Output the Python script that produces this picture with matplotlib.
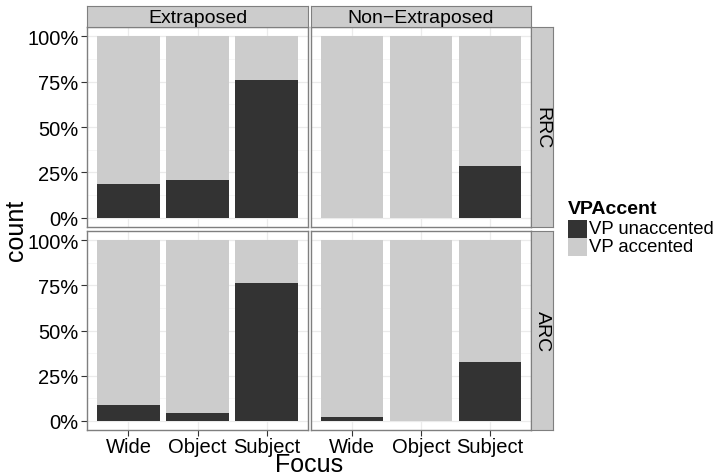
import matplotlib
matplotlib.use("Agg")
import matplotlib.pyplot as plt
from matplotlib.patches import Rectangle
from matplotlib.ticker import FixedLocator, PercentFormatter

plt.rcParams['font.family'] = ['Liberation Sans', 'DejaVu Sans']

focus = ["Wide", "Object", "Subject"]
columns = ["Extraposed", "Non\u2212Extraposed"]
rows = ["RRC", "ARC"]
series = ["VP unaccented", "VP accented"]
colors = ["#333333", "#CCCCCC"]
# share of VP unaccented per panel (row, column)
unaccented = {
    ("RRC", "Extraposed"): [0.187, 0.209, 0.76],
    ("RRC", "Non\u2212Extraposed"): [0.0, 0.0, 0.286],
    ("ARC", "Extraposed"): [0.09, 0.046, 0.764],
    ("ARC", "Non\u2212Extraposed"): [0.024, 0.0, 0.325],
}
yticks = [0, 0.25, 0.5, 0.75, 1.0]

W, H = 724, 477
fig = plt.figure(figsize=(W / 100, H / 100), dpi=100)

def px(l, t, w, h):
    return [l / W, 1 - (t + h) / H, w / W, h / H]

col_left = [87, 311]
col_w = [221, 220]
row_top = [28, 232]
row_h = [200, 199]
border = "#7F7F7F"

for ri, r in enumerate(rows):
    for ci, c in enumerate(columns):
        ax = fig.add_axes(px(col_left[ci], row_top[ri], col_w[ci], row_h[ri]))
        vals = unaccented[(r, c)]
        xs = list(range(1, len(focus) + 1))
        ax.bar(xs, vals, width=0.9, color=colors[0], zorder=2)
        ax.bar(xs, [1 - v for v in vals], bottom=vals, width=0.9, color=colors[1], zorder=2)
        ax.set_xlim(0.4, 3.6)
        ax.set_ylim(-0.05, 1.05)
        ax.yaxis.set_major_locator(FixedLocator(yticks))
        ax.yaxis.set_minor_locator(FixedLocator([0.125, 0.375, 0.625, 0.875]))
        ax.yaxis.set_major_formatter(PercentFormatter(1.0, decimals=0))
        ax.set_xticks(xs)
        ax.set_xticklabels(focus)
        ax.grid(True, which='major', color="#EBEBEB", lw=0.9, zorder=0)
        ax.grid(True, which='minor', axis='y', color="#F5F5F5", lw=0.6, zorder=0)
        ax.set_axisbelow(True)
        for s in ax.spines.values():
            s.set_color(border)
            s.set_linewidth(1.0)
        ax.tick_params(which='minor', length=0)
        ax.tick_params(which='major', direction='out', length=4, color="#333333",
                       labelsize=14.5, labelcolor="black", pad=2)
        if ci != 0:
            ax.tick_params(axis='y', which='both', left=False, labelleft=False)
        if ri != len(rows) - 1:
            ax.tick_params(axis='x', which='both', bottom=False, labelbottom=False)
        else:
            ax.tick_params(axis='x', pad=1.0)
        # column strip
        if ri == 0:
            sax = fig.add_axes(px(col_left[ci], 7, col_w[ci], 21))
            sax.set_xticks([]); sax.set_yticks([])
            sax.set_facecolor("#CCCCCC")
            for s in sax.spines.values():
                s.set_color(border)
            sax.text(0.5, 0.45, c, ha='center', va='center', fontsize=14,
                     transform=sax.transAxes)
        # row strip
        if ci == len(columns) - 1:
            sax = fig.add_axes(px(531, row_top[ri], 22, row_h[ri]))
            sax.set_xticks([]); sax.set_yticks([])
            sax.set_facecolor("#CCCCCC")
            for s in sax.spines.values():
                s.set_color(border)
            sax.text(0.5, 0.5, r, ha='center', va='center', fontsize=14,
                     rotation=-90, transform=sax.transAxes)

fig.text(16 / W, 1 - 230 / H, "count", rotation=90, ha='center', va='center', fontsize=18)
fig.text(309 / W, 1 - 472 / H, "Focus", ha='center', va='baseline', fontsize=18)

# legend
fig.text(568 / W, 1 - 210 / H, "VPAccent", ha='left', va='center', fontsize=14, fontweight='bold')
for i, (lab, col) in enumerate(zip(series, colors)):
    top = 221 + i * 18
    fig.patches.append(Rectangle((568 / W, 1 - (top + 18) / H), 19 / W, 18 / H,
                                 transform=fig.transFigure, facecolor=col, edgecolor='none'))
    fig.text(589 / W, 1 - (top + 9) / H, lab, ha='left', va='center', fontsize=13.3)

fig.savefig("out.png", dpi=100)
